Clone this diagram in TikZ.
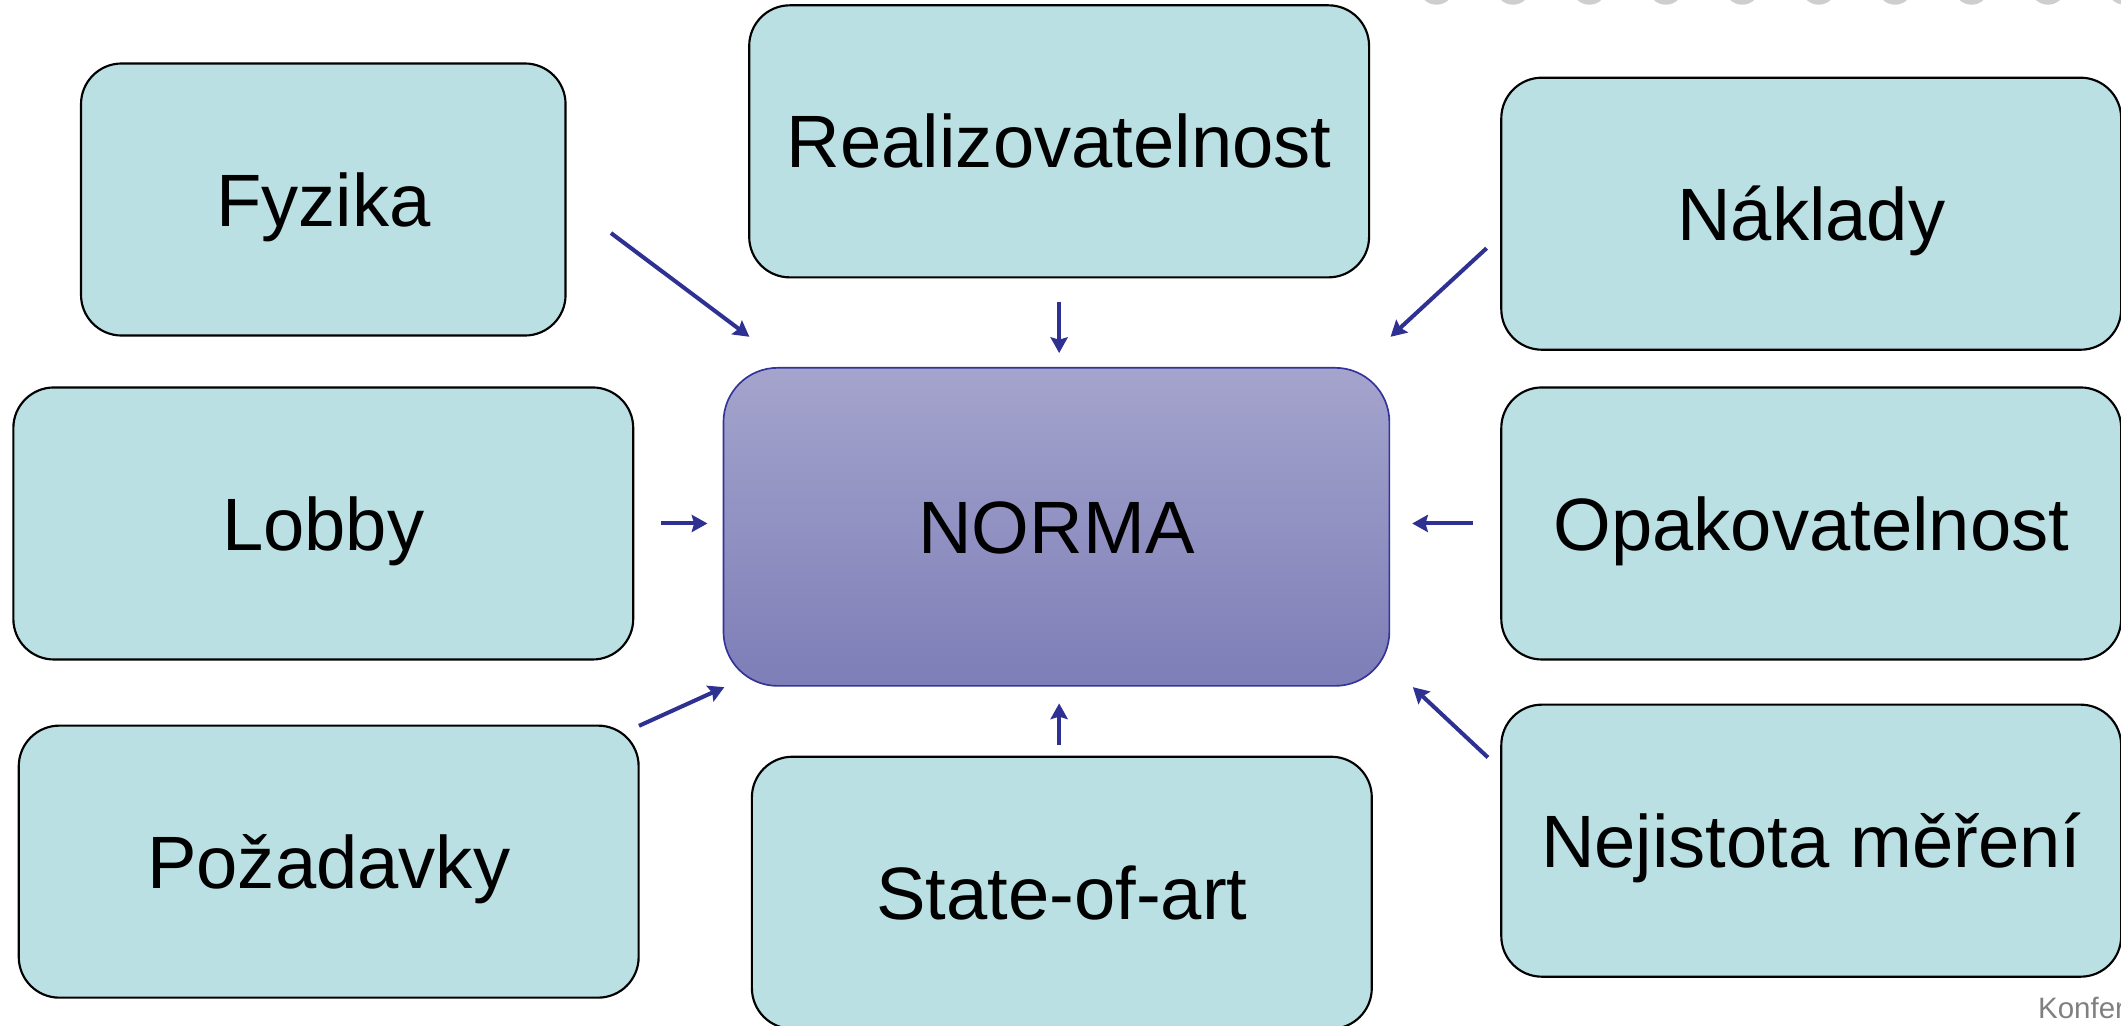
\documentclass[tikz,border=0pt]{standalone}
\usepackage{fontspec}
\setmainfont{Liberation Sans}
\usetikzlibrary{arrows.meta}
\definecolor{boxfill}{RGB}{186,224,227}
\definecolor{normatop}{RGB}{164,164,205}
\definecolor{normabot}{RGB}{126,126,184}
\definecolor{normaline}{RGB}{51,51,153}
\definecolor{arrowblue}{RGB}{46,49,146}
\definecolor{dotgray}{RGB}{206,206,206}
\definecolor{footgray}{RGB}{128,128,128}
\begin{document}
\begin{tikzpicture}[x=0.01cm,y=-0.01cm,
  factor/.style={draw=black, line width=0.45pt, fill=boxfill,
    rounded corners=0.3cm, minimum width=4.58cm, minimum height=2.01cm,
    inner sep=0pt, font=\fontsize{15.6}{18}\selectfont,
    text height=11.2pt, text depth=0pt},
  centrebox/.style={draw=normaline, line width=0.35pt,
    top color=normatop, bottom color=normabot,
    rounded corners=0.4cm, minimum width=4.92cm, minimum height=2.35cm,
    inner sep=0pt, font=\fontsize{15.6}{18}\selectfont,
    text height=11.2pt, text depth=0pt},
  influence/.style={draw=arrowblue, line width=0.85pt,
    -{Stealth[length=3.3pt,width=3.6pt,inset=0.5pt]}},
  dot/.style={fill=dotgray, draw=none}]

\useasboundingbox (0,0) rectangle (1568,758.5);
\clip (0,0) rectangle (1568,758.5);

% row of dots along the top edge
\foreach \i in {0,...,9}
  \fill[dot] (1062+56.5*\i,-9.5) circle[radius=0.13cm];

% central box
\node[centrebox] (norma) at (781,389.5) {NORMA};

% surrounding factors
\node[factor, minimum width=3.58cm] (fyzika) at (239,147.5) {Fyzika};
\node[factor] (realiz) at (783,104.5) {Realizovatelnost};
\node[factor] (naklady) at (1339,158) {Náklady};
\node[factor] (lobby) at (239,387) {Lobby};
\node[factor] (opak) at (1339,387) {Opakovatelnost};
\node[factor] (pozad) at (243,637) {Požadavky};
\node[factor] (state) at (785,660) {State-of-art};
\node[factor] (nejist) at (1339,621.5) {Nejistota měření};

% arrow end points
\coordinate (fyzA) at (451.7,172.3);  \coordinate (fyzB) at (554,249);
\coordinate (reaA) at (783,223);      \coordinate (reaB) at (783,261);
\coordinate (nakA) at (1099,183.5);   \coordinate (nakB) at (1028,249);
\coordinate (lobA) at (489,387);      \coordinate (lobB) at (523,387);
\coordinate (opaA) at (1089,387);     \coordinate (opaB) at (1044,387);
\coordinate (pozA) at (472.4,536.6);  \coordinate (pozB) at (535.5,508);
\coordinate (staA) at (783,551);      \coordinate (staB) at (783,520);
\coordinate (nejA) at (1100,560);     \coordinate (nejB) at (1044.5,508);

\draw[influence] (fyzA) -- (fyzB);
\draw[influence] (reaA) -- (reaB);
\draw[influence] (nakA) -- (nakB);
\draw[influence] (lobA) -- (lobB);
\draw[influence] (opaA) -- (opaB);
\draw[influence] (pozA) -- (pozB);
\draw[influence] (staA) -- (staB);
\draw[influence] (nejA) -- (nejB);

% footer text
\node[anchor=base west, inner sep=0pt, text=footgray,
      font=\fontsize{6.2}{7}\selectfont] (footer) at (1506,753) {Konfer};
\end{tikzpicture}
\end{document}
